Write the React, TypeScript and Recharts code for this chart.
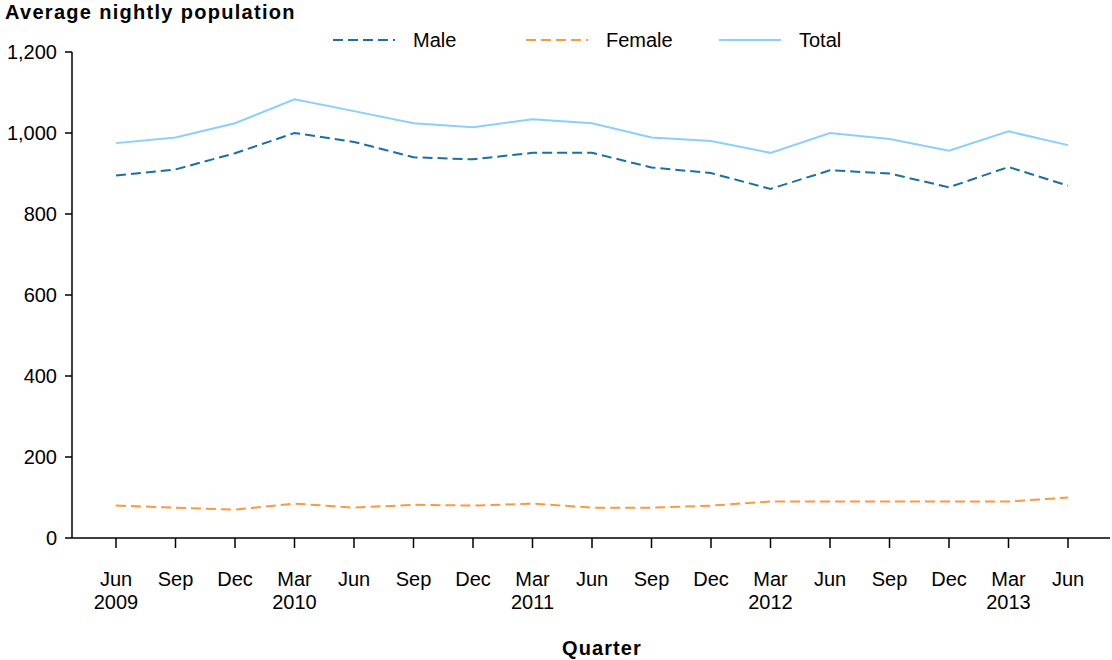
import React from 'react';
import { LineChart, Line, XAxis, YAxis } from 'recharts';

const quarterLabels = ['Jun', 'Sep', 'Dec', 'Mar', 'Jun', 'Sep', 'Dec', 'Mar', 'Jun', 'Sep', 'Dec', 'Mar', 'Jun', 'Sep', 'Dec', 'Mar', 'Jun'];
const yearLabels = ['2009', '', '', '2010', '', '', '', '2011', '', '', '', '2012', '', '', '', '2013', ''];
const maleValues = [895, 910, 950, 1000, 978, 940, 935, 951, 951, 915, 901, 862, 908, 900, 866, 916, 870];
const femaleValues = [80, 75, 70, 85, 75, 82, 80, 85, 75, 75, 80, 90, 90, 90, 90, 90, 100];
const totalValues = [975, 989, 1024, 1083, 1054, 1024, 1014, 1034, 1024, 989, 980, 951, 1000, 985, 956, 1004, 970];
const yTicks = [0, 200, 400, 600, 800, 1000, 1200];

const seriesInfo = [
  { key: 'male', name: 'Male', color: '#1a6fa3', dash: '10 5' },
  { key: 'female', name: 'Female', color: '#f99a3c', dash: '10 5' },
  { key: 'total', name: 'Total', color: '#8ad0fb', dash: '' },
];

const data = quarterLabels.map((q, i) => ({
  id: i,
  quarter: q,
  year: yearLabels[i],
  male: maleValues[i],
  female: femaleValues[i],
  total: totalValues[i],
}));

const FONT = '"Liberation Sans", Arial, Helvetica, sans-serif';

const QuarterTick = (props: any) => {
  const { x, y, payload } = props;
  const idx = payload.value as number;
  return (
    <g transform={`translate(${x},${y})`}>
      <text textAnchor="middle" fontSize={20} fill="#000" fontFamily={FONT}>
        <tspan x={0} y={38}>{quarterLabels[idx]}</tspan>
        {yearLabels[idx] ? <tspan x={0} y={61}>{yearLabels[idx]}</tspan> : null}
      </text>
    </g>
  );
};

const LegendBlock = () => (
  <div style={{ position: 'absolute', left: 333, top: 28, display: 'flex', flexDirection: 'row', fontFamily: FONT, fontSize: 20, color: '#000' }}>
    {seriesInfo.map((s) => (
      <div key={s.key} style={{ width: 193, display: 'flex', alignItems: 'center' }}>
        <svg width={62} height={6} style={{ display: 'block' }}>
          <line x1={0} y1={3} x2={62} y2={3} stroke={s.color} strokeWidth={2} strokeDasharray={s.dash || undefined} />
        </svg>
        <span style={{ marginLeft: 18, lineHeight: '24px' }}>{s.name}</span>
      </div>
    ))}
  </div>
);

export default function App() {
  return (
    <div style={{ position: 'absolute', left: 0, top: 0, width: 1112, height: 660, background: '#fff', fontFamily: FONT }}>
      <div style={{ position: 'absolute', left: 5, top: 1, fontSize: 20, fontWeight: 'bold', letterSpacing: 1.3, color: '#000', whiteSpace: 'nowrap' }}>
        Average nightly population
      </div>
      <LegendBlock />
      <LineChart width={1112} height={660} data={data} margin={{ top: 52, right: 2, bottom: 0, left: 0 }}>
        <XAxis
          dataKey="id"
          type="category"
          scale="point"
          padding={{ left: 44, right: 42 }}
          tick={<QuarterTick />}
          tickSize={10}
          tickMargin={0}
          height={122}
          interval={0}
          axisLine={{ stroke: '#000', strokeWidth: 1.5 }}
          tickLine={{ stroke: '#000', strokeWidth: 1.5 }}
        />
        <YAxis
          domain={[0, 1200]}
          ticks={yTicks}
          width={72}
          tickSize={7}
          tickMargin={8}
          tickFormatter={(v: number) => v.toLocaleString('en-US')}
          tick={{ fontSize: 20, fill: '#000', fontFamily: FONT }}
          axisLine={{ stroke: '#000', strokeWidth: 1.5 }}
          tickLine={{ stroke: '#000', strokeWidth: 1.5 }}
          interval={0}
        />
        {seriesInfo.map((s) => (
          <Line
            key={s.key}
            type="linear"
            dataKey={s.key}
            name={s.name}
            stroke={s.color}
            strokeWidth={2}
            strokeDasharray={s.dash || undefined}
            dot={false}
            activeDot={false}
            isAnimationActive={false}
          />
        ))}
      </LineChart>
      <div style={{ position: 'absolute', left: 0, width: 1204, top: 637, textAlign: 'center', fontSize: 20, fontWeight: 'bold', letterSpacing: 1.1, color: '#000' }}>
        Quarter
      </div>
    </div>
  );
}
